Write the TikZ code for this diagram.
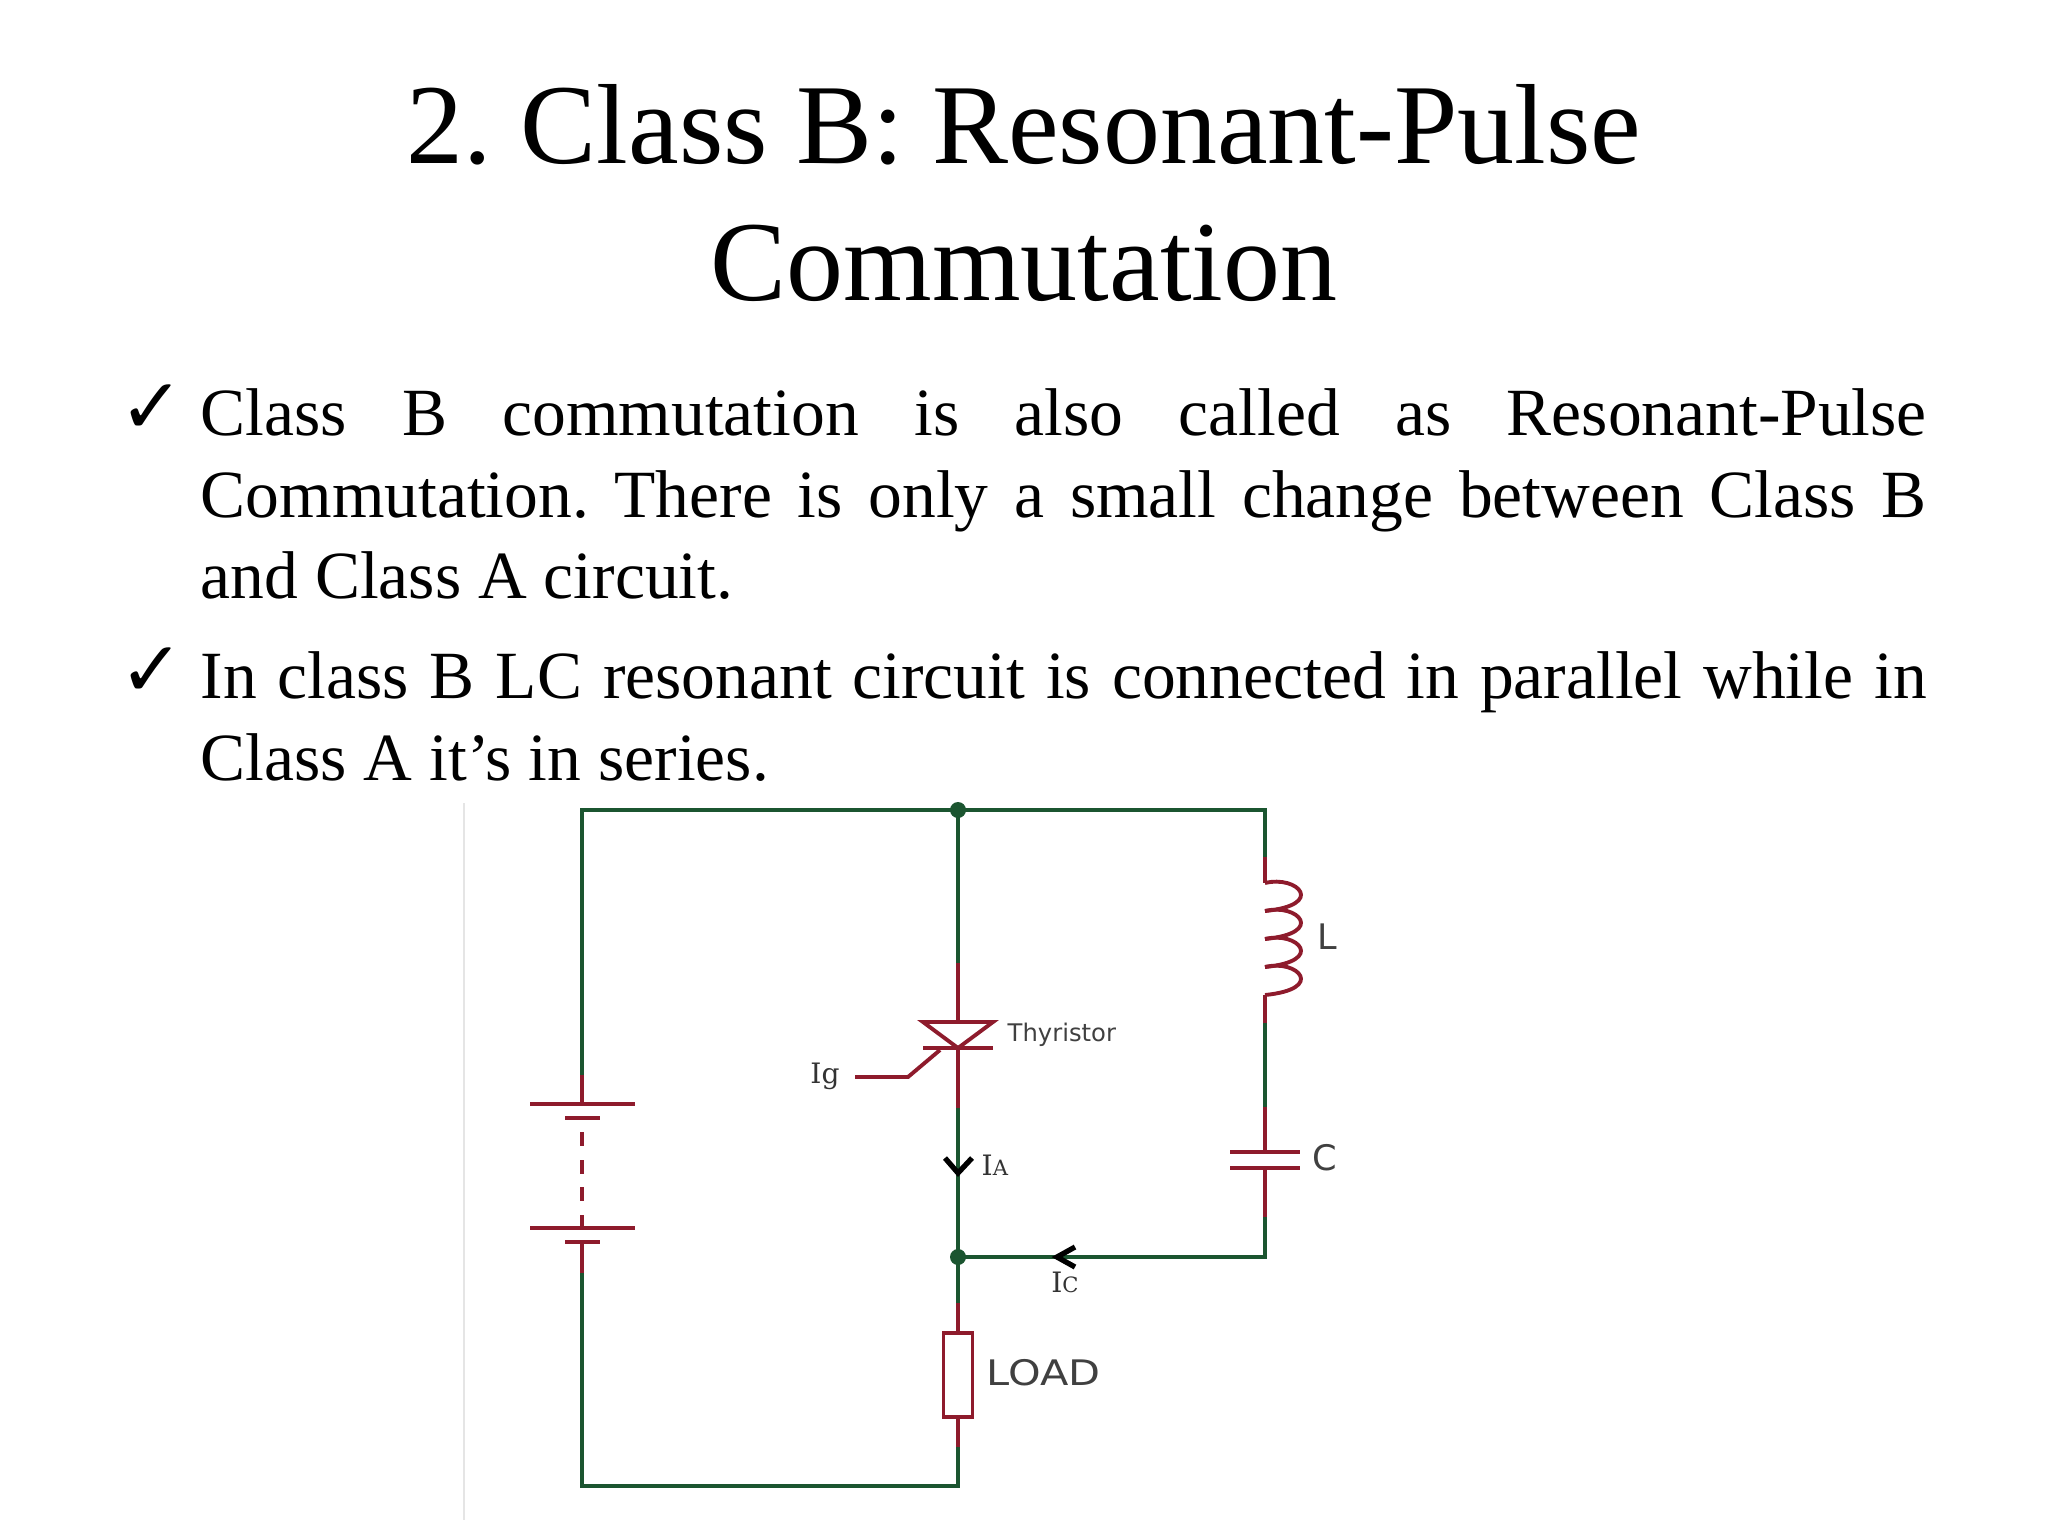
\documentclass[tikz,border=0pt]{standalone}
\usepackage{fontspec}
\setmainfont{Liberation Serif}
\newfontfamily\labelfont{DejaVu Sans}
\newfontfamily\widefont[FakeStretch=1.18]{DejaVu Sans}
\newfontfamily\slabfont{DejaVu Serif}
\definecolor{wiregreen}{HTML}{1B5530}
\definecolor{partred}{HTML}{8E1B2C}
\tikzset{
  wire/.style={draw=wiregreen, line width=1.1pt},
  part/.style={draw=partred, line width=1.1pt},
  headtext/.style={inner sep=0, anchor=base, font=\frenchspacing\fontsize{32.4}{38}\selectfont},
  bodytext/.style={inner sep=0, anchor=north west, text width=17.25cm, align=justify, font=\frenchspacing\fontsize{19.2}{23.2}\selectfont},
  tickmark/.style={inner sep=0, font=\labelfont\bfseries\fontsize{22}{24}\selectfont},
  partlabel/.style={inner sep=0, text=black!75, font=\labelfont\fontsize{6.9}{8}\selectfont},
  biglabel/.style={inner sep=0, text=black!75, font=\labelfont\fontsize{10}{12}\selectfont},
  slablabel/.style={inner sep=0, text=black!80, font=\slabfont\fontsize{8}{10}\selectfont},
}
\newcommand{\smallsub}[1]{{\fontsize{6}{7}\selectfont #1}}
\begin{document}
\begin{tikzpicture}[x=0.01cm, y=-0.01cm]
    \useasboundingbox (0, 0) rectangle (2048, 1536);
    \node[headtext] (head1) at (1024, 163) {2. Class B: Resonant-Pulse};
    \node[headtext] (head2) at (1024, 300) {Commutation};
    \node[tickmark] (tick1) at (152, 409) {✓};
    \node[tickmark] (tick2) at (152, 672) {✓};
    \node[bodytext] (para1) at (200, 388) {Class B commutation is also called as Resonant-Pulse\linebreak Commutation. There is only a small change between Class B\linebreak and Class A circuit.};
    \node[bodytext] (para2) at (200, 651) {In class B LC resonant circuit is connected in parallel while in\linebreak Class A it’s in series.};

    \draw[black!10, line width=.4pt] (464, 803) -- (464, 1520);

    \coordinate (topleft) at (582, 810);
    \coordinate (topmid) at (958, 810);
    \coordinate (topright) at (1265, 810);
    \coordinate (botleft) at (582, 1486);
    \coordinate (botmid) at (958, 1486);
    \coordinate (joinmid) at (958, 1257);
    \coordinate (joinright) at (1265, 1257);
    \coordinate (thytop) at (958, 963);
    \coordinate (thybot) at (958, 1108);
    \coordinate (batttop) at (582, 1075);
    \coordinate (battbot) at (582, 1273);
    \coordinate (coiltop) at (1265, 857);
    \coordinate (coilbot) at (1265, 1023);
    \coordinate (captop) at (1265, 1107);
    \coordinate (capbot) at (1265, 1217);
    \coordinate (loadtop) at (958, 1303);
    \coordinate (loadbot) at (958, 1447);

    \draw[wire] (batttop) -- (topleft) -- (topright) -- (coiltop);
    \draw[wire] (topmid) -- (thytop);
    \draw[wire] (thybot) -- (joinmid) -- (loadtop);
    \draw[wire] (coilbot) -- (captop);
    \draw[wire] (capbot) -- (joinright) -- (joinmid);
    \draw[wire] (battbot) -- (botleft) -- (botmid) -- (loadbot);
    \fill[wiregreen] (topmid) circle[radius=8];
    \fill[wiregreen] (joinmid) circle[radius=8];

    \draw[part] (thytop) -- (958, 1022);
    \draw[part] (923, 1022) -- (993, 1022) -- (958, 1048) -- cycle;
    \draw[part] (923, 1048) -- (993, 1048);
    \draw[part] (958, 1048) -- (thybot);
    \draw[part] (940, 1050) -- (908, 1077) -- (855, 1077);
    \node[slablabel] (ig) at (825, 1076) {Ig};
    \node[partlabel, anchor=west] (thy) at (1007, 1035) {Thyristor};
    \draw[black, line width=1.5pt] (945, 1158) -- (958, 1173) -- (972, 1158);
    \node[slablabel, anchor=west] (ia) at (981, 1165) {I\smallsub{A}};

    \draw[part] (batttop) -- (582, 1104);
    \draw[part] (530, 1104) -- (635, 1104);
    \draw[part] (565, 1118) -- (600, 1118);
    \foreach \d in {1132, 1160, 1187, 1215}
      \draw[part] (582, \d) -- (582, \d+14);
    \draw[part] (530, 1228) -- (635, 1228);
    \draw[part] (565, 1242) -- (600, 1242);
    \draw[part] (582, 1242) -- (battbot);

    \draw[part] (coiltop) -- (1265, 883);
    \foreach \c in {883, 911, 939, 967}
      \draw[part] (1265, \c) .. controls (1298, \c-8) and (1326, \c+22) .. (1265, \c+28);
    \draw[part] (1265, 995) -- (coilbot);
    \node[biglabel] (lbl) at (1327, 937) {L};

    \draw[part] (captop) -- (1265, 1152);
    \draw[part] (1230, 1152) -- (1300, 1152);
    \draw[part] (1230, 1168) -- (1300, 1168);
    \draw[part] (1265, 1168) -- (capbot);
    \node[biglabel] (clbl) at (1325, 1158) {C};

    \draw[black, line width=1.5pt] (1075, 1247) -- (1057, 1257) -- (1075, 1267);
    \node[slablabel] (ic) at (1065, 1282) {I\smallsub{C}};

    \node[draw=partred, line width=1.1pt, fill=white, inner sep=0, minimum width=29*.01cm, minimum height=84*.01cm] (load) at (958, 1375) {};
    \draw[part] (loadtop) -- (load.north);
    \draw[part] (load.south) -- (loadbot);
    \node[biglabel, anchor=west, font=\widefont\fontsize{10}{12}\selectfont] (loadlbl) at (986, 1373) {LOAD};
\end{tikzpicture}
\end{document}
